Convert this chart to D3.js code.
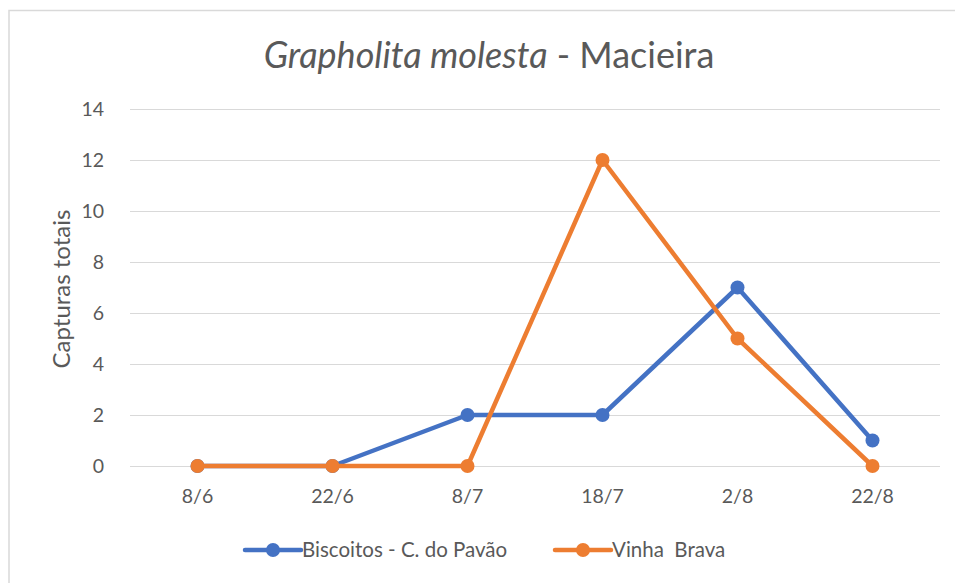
<!doctype html>
<html>
<head>
<meta charset="UTF-8">
<title>Grapholita molesta - Macieira</title>
<script src="https://d3js.org/d3.v7.min.js"></script>
<style>
  body{ margin:0; background:#fff; }
  text{ font-family: Lato, "Open Sans", sans-serif; fill:#595959; }
</style>
</head>
<body>
<svg id="chart" width="955" height="583"></svg>
<script>
var dates = ["8/6", "22/6", "8/7", "18/7", "2/8", "22/8"];
var biscoitos = [0, 0, 2, 2, 7, 1];
var vinhaBrava = [0, 0, 0, 12, 5, 0];
var yTicks = [0, 2, 4, 6, 8, 10, 12, 14];
var seriesNames = ["Biscoitos - C. do Pavão", "Vinha  Brava"];
var colors = ["#4472C4", "#ED7D31"];

var svg = d3.select("#chart");

// chart frame (only top/left visible in original)
svg.append("rect").attr("x", 9).attr("y", 10.5).attr("width", 960).attr("height", 600)
  .attr("fill", "none").attr("stroke", "#d9d9d9").attr("stroke-width", 1.5);

var x = d3.scaleBand().domain(dates).range([130, 940]);
var y = d3.scaleLinear().domain([0, 14]).range([466, 109]);

// grid
svg.selectAll("line.grid").data(yTicks).enter().append("line")
  .attr("x1", 130).attr("x2", 940)
  .attr("y1", function(d){ return Math.round(y(d)) + 0.5; })
  .attr("y2", function(d){ return Math.round(y(d)) + 0.5; })
  .attr("stroke", "#d9d9d9").attr("stroke-width", 1);

// y tick labels
svg.selectAll("text.ytick").data(yTicks).enter().append("text")
  .attr("x", 104).attr("y", function(d){ return y(d); })
  .attr("dy", "0.35em").attr("text-anchor", "end")
  .style("font-size", "19.5px").text(function(d){ return d; });

// x tick labels
svg.selectAll("text.xtick").data(dates).enter().append("text")
  .attr("x", function(d){ return x(d) + x.bandwidth() / 2; })
  .attr("y", 503).attr("text-anchor", "middle")
  .style("font-size", "19.5px").text(function(d){ return d; });

// title
var title = svg.append("text").attr("x", 489).attr("y", 68).attr("text-anchor", "middle")
  .style("font-size", "36px");
title.append("tspan").style("font-style", "italic").text("Grapholita molesta");
title.append("tspan").text(" - Macieira");

// y axis label
svg.append("text").attr("transform", "translate(70,289) rotate(-90)")
  .attr("text-anchor", "middle").style("font-size", "24px").text("Capturas totais");

var line = d3.line()
  .x(function(d, i){ return x(dates[i]) + x.bandwidth() / 2; })
  .y(function(d){ return y(d); });

[biscoitos, vinhaBrava].forEach(function(vals, k){
  var g = svg.append("g");
  g.append("path").datum(vals).attr("d", line)
    .attr("fill", "none").attr("stroke", colors[k]).attr("stroke-width", 4.5)
    .attr("stroke-linejoin", "round").attr("stroke-linecap", "round");
  g.selectAll("circle").data(vals).enter().append("circle")
    .attr("cx", function(d, i){ return x(dates[i]) + x.bandwidth() / 2; })
    .attr("cy", function(d){ return y(d); })
    .attr("r", 7).attr("fill", colors[k]);
});

// legend
var legendX = [245, 555];
seriesNames.forEach(function(name, k){
  var lg = svg.append("g").attr("transform", "translate(" + legendX[k] + ",550)");
  lg.append("line").attr("x1", 0).attr("x2", 56).attr("y1", 0).attr("y2", 0)
    .attr("stroke", colors[k]).attr("stroke-width", 4.5).attr("stroke-linecap", "round");
  lg.append("circle").attr("cx", 28).attr("cy", 0).attr("r", 7).attr("fill", colors[k]);
  lg.append("text").attr("x", 57).attr("y", 0).attr("dy", "0.35em")
    .style("font-size", "20.5px").style("white-space", "pre").text(name);
});
</script>
</body>
</html>
